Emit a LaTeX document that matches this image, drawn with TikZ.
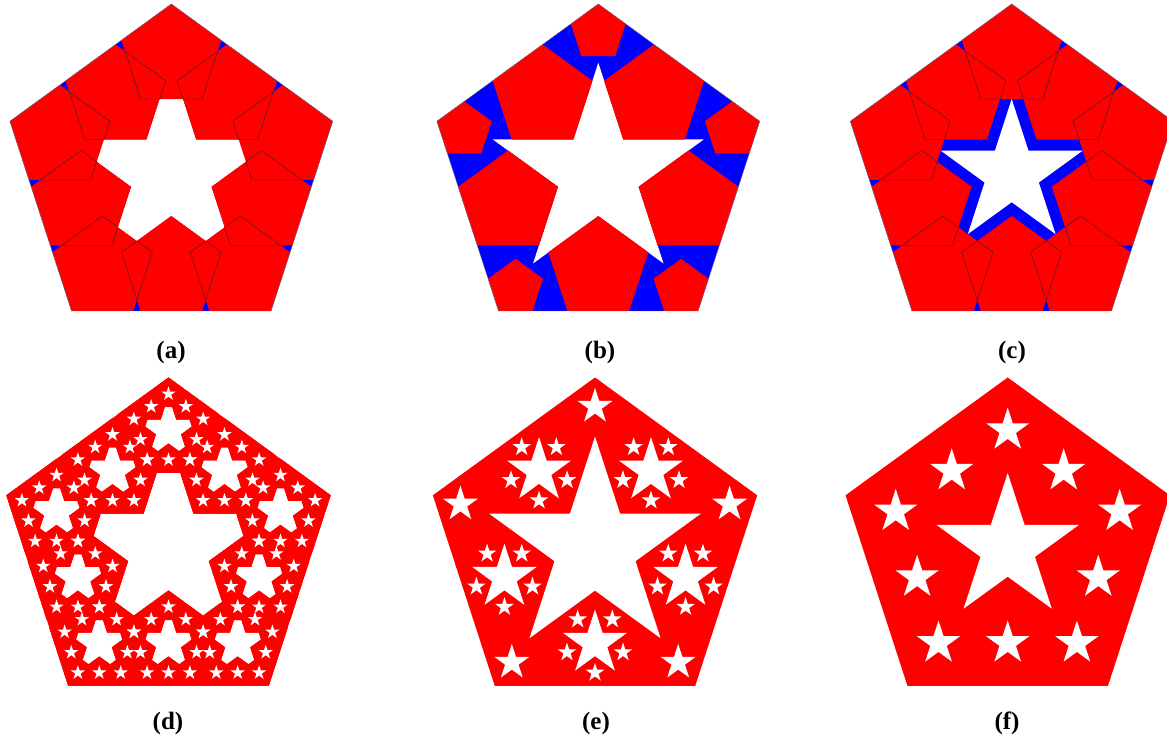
\documentclass[tikz,border=0pt]{standalone}
\usepackage{fontspec}
\setmainfont{Liberation Serif}
\newcommand\pentfill[4]{\fill[#4] (#1,#2) +(90:#3) -- +(162:#3) -- +(234:#3) -- +(306:#3) -- +(18:#3) -- cycle;}
\newcommand\pentdraw[4]{\draw[#4] (#1,#2) +(90:#3) -- +(162:#3) -- +(234:#3) -- +(306:#3) -- +(18:#3) -- cycle;}
\newcommand\pentclip[3]{\clip (#1,#2) +(90:#3) -- +(162:#3) -- +(234:#3) -- +(306:#3) -- +(18:#3) -- cycle;}
\newcommand\starfill[4]{\pgfmathsetmacro\rin{0.381966*#3}%
  \fill[#4] (#1,#2) +(90:#3) -- +(126:\rin) -- +(162:#3) -- +(198:\rin) -- +(234:#3) -- +(270:\rin) -- +(306:#3) -- +(342:\rin) -- +(18:#3) -- +(54:\rin) -- cycle;}
\def\kidsA{90/1,162/1,234/1,306/1,18/1,126/0.809017,198/0.809017,270/0.809017,342/0.809017,54/0.809017}
\def\qq{0.3096}
\def\pp{0.17}
% panels (a) and (c): blue pentagon, white star, ten red overlapping pentagons
\newcommand\panelAC[4]{%
  \pentfill{#1}{#2}{#3}{blue}
  \pgfmathsetmacro\rs{#4*#3}\starfill{#1}{#2}{\rs}{white}
  \foreach \ang/\kf in \kidsA {%
    \pgfmathsetmacro\xa{#1+(1-\qq)*\kf*#3*cos(\ang)}%
    \pgfmathsetmacro\ya{#2+(1-\qq)*\kf*#3*sin(\ang)}%
    \pgfmathsetmacro\ra{\qq*#3}%
    \pentfill{\xa}{\ya}{\ra}{red}}
  \foreach \ang/\kf in \kidsA {%
    \pgfmathsetmacro\xa{#1+(1-\qq)*\kf*#3*cos(\ang)}%
    \pgfmathsetmacro\ya{#2+(1-\qq)*\kf*#3*sin(\ang)}%
    \pgfmathsetmacro\ra{\qq*#3}%
    \foreach \angb/\kfb in \kidsA {%
      \ifnum\ang=\angb\relax\else
        \pgfmathsetmacro\xb{#1+(1-\qq)*\kfb*#3*cos(\angb)}%
        \pgfmathsetmacro\yb{#2+(1-\qq)*\kfb*#3*sin(\angb)}%
        \begin{scope}\pentclip{\xb}{\yb}{\ra}\pentdraw{\xa}{\ya}{\ra}{edgeln}\end{scope}
      \fi}}
  \pentdraw{#1}{#2}{#3}{outerln}}
\tikzset{
  edgeln/.style={black!85, line width=0.4pt},
  outerln/.style={black!55, line width=0.4pt},
  lab/.style={font=\bfseries\fontsize{25}{30}\selectfont, inner sep=0pt}
}
\begin{document}
\begin{tikzpicture}[x=1pt,y=1pt]
\useasboundingbox (0,0) rectangle (1167,742);
% ---------- (a)
\panelAC{171.3}{568.3}{169.7}{0.654}
% ---------- (b)
\def\cx{598.3}\def\cy{568.3}\def\R{169.7}
\pentfill{\cx}{\cy}{\R}{blue}
\pgfmathsetmacro\rs{0.654*\R}\starfill{\cx}{\cy}{\rs}{white}
\foreach \ang in {126,198,270,342,54} {%
  \pgfmathsetmacro\xa{\cx+(1-\qq)*0.809017*\R*cos(\ang)}%
  \pgfmathsetmacro\ya{\cy+(1-\qq)*0.809017*\R*sin(\ang)}%
  \pgfmathsetmacro\ra{\qq*\R}%
  \pentfill{\xa}{\ya}{\ra}{red}}
\foreach \ang in {90,162,234,306,18} {%
  \pgfmathsetmacro\xa{\cx+(1-\pp)*\R*cos(\ang)}%
  \pgfmathsetmacro\ya{\cy+(1-\pp)*\R*sin(\ang)}%
  \pgfmathsetmacro\ra{\pp*\R}%
  \pentfill{\xa}{\ya}{\ra}{red}}
\pentdraw{\cx}{\cy}{\R}{outerln}
% ---------- (c)
\panelAC{1011.7}{568.3}{169.7}{0.44}
% ---------- (d)
\def\cx{168.5}\def\cy{194}\def\R{170.5}
\pentfill{\cx}{\cy}{\R}{red}
\pgfmathsetmacro\rs{0.654*\R}\starfill{\cx}{\cy}{\rs}{white}
\foreach \ang/\kf in \kidsA {%
  \pgfmathsetmacro\xa{\cx+(1-\qq)*\kf*\R*cos(\ang)}%
  \pgfmathsetmacro\ya{\cy+(1-\qq)*\kf*\R*sin(\ang)}%
  \pgfmathsetmacro\ra{\qq*\R}%
  \pentfill{\xa}{\ya}{\ra}{red}}
\foreach \ang/\kf in \kidsA {%
  \pgfmathsetmacro\xa{\cx+(1-\qq)*\kf*\R*cos(\ang)}%
  \pgfmathsetmacro\ya{\cy+(1-\qq)*\kf*\R*sin(\ang)}%
  \pgfmathsetmacro\ra{0.654*\qq*\R}%
  \starfill{\xa}{\ya}{\ra}{white}}
\foreach \ang/\kf in \kidsA {%
  \pgfmathsetmacro\xa{\cx+(1-\qq)*\kf*\R*cos(\ang)}%
  \pgfmathsetmacro\ya{\cy+(1-\qq)*\kf*\R*sin(\ang)}%
  \pgfmathsetmacro\ra{\qq*\R}%
  \foreach \angb/\kfb in \kidsA {%
    \pgfmathsetmacro\xb{\xa+(1-\qq)*\kfb*\ra*cos(\angb)}%
    \pgfmathsetmacro\yb{\ya+(1-\qq)*\kfb*\ra*sin(\angb)}%
    \pgfmathsetmacro\rb{\qq*\ra}%
    \pentfill{\xb}{\yb}{\rb}{red}}}
\foreach \ang/\kf in \kidsA {%
  \pgfmathsetmacro\xa{\cx+(1-\qq)*\kf*\R*cos(\ang)}%
  \pgfmathsetmacro\ya{\cy+(1-\qq)*\kf*\R*sin(\ang)}%
  \pgfmathsetmacro\ra{\qq*\R}%
  \foreach \angb/\kfb in \kidsA {%
    \pgfmathsetmacro\xb{\xa+(1-\qq)*\kfb*\ra*cos(\angb)}%
    \pgfmathsetmacro\yb{\ya+(1-\qq)*\kfb*\ra*sin(\angb)}%
    \pgfmathsetmacro\rb{0.46*\qq*\ra}%
    \starfill{\xb}{\yb}{\rb}{white}}}
% ---------- (e)
\def\cx{595}\def\cy{194}\def\R{170.5}
\pentfill{\cx}{\cy}{\R}{red}
\pgfmathsetmacro\rs{0.654*\R}\starfill{\cx}{\cy}{\rs}{white}
\foreach \ang in {90,162,234,306,18} {%
  \pgfmathsetmacro\xa{\cx+(1-\pp)*\R*cos(\ang)}%
  \pgfmathsetmacro\ya{\cy+(1-\pp)*\R*sin(\ang)}%
  \pgfmathsetmacro\ra{0.64*\pp*\R}%
  \starfill{\xa}{\ya}{\ra}{white}}
\foreach \ang in {126,198,270,342,54} {%
  \pgfmathsetmacro\xa{\cx+(1-\qq)*0.809017*\R*cos(\ang)}%
  \pgfmathsetmacro\ya{\cy+(1-\qq)*0.809017*\R*sin(\ang)}%
  \pgfmathsetmacro\ra{\qq*\R}%
  \pgfmathsetmacro\rs{0.64*\ra}%
  \starfill{\xa}{\ya}{\rs}{white}
  \foreach \angb in {126,198,270,342,54} {%
    \pgfmathsetmacro\xb{\xa+(1-\qq)*0.809017*\ra*cos(\angb)}%
    \pgfmathsetmacro\yb{\ya+(1-\qq)*0.809017*\ra*sin(\angb)}%
    \pgfmathsetmacro\rb{0.6*\qq*\ra}%
    \starfill{\xb}{\yb}{\rb}{white}}}
% ---------- (f)
\def\cx{1007.7}\def\cy{194}\def\R{170.5}
\pentfill{\cx}{\cy}{\R}{red}
\pgfmathsetmacro\rs{0.44*\R}\starfill{\cx}{\cy}{\rs}{white}
\foreach \ang/\kf in \kidsA {%
  \pgfmathsetmacro\xa{\cx+(1-\qq)*\kf*\R*cos(\ang)}%
  \pgfmathsetmacro\ya{\cy+(1-\qq)*\kf*\R*sin(\ang)}%
  \pgfmathsetmacro\ra{0.43*\qq*\R}%
  \starfill{\xa}{\ya}{\ra}{white}}
% ---------- labels
\node[lab] (la) at (171,390) {(a)};
\node[lab] (lb) at (600,390) {(b)};
\node[lab] (lc) at (1012,390) {(c)};
\node[lab] (ld) at (168,19) {(d)};
\node[lab] (le) at (596,19) {(e)};
\node[lab] (lf) at (1007,19) {(f)};
\end{tikzpicture}
\end{document}
